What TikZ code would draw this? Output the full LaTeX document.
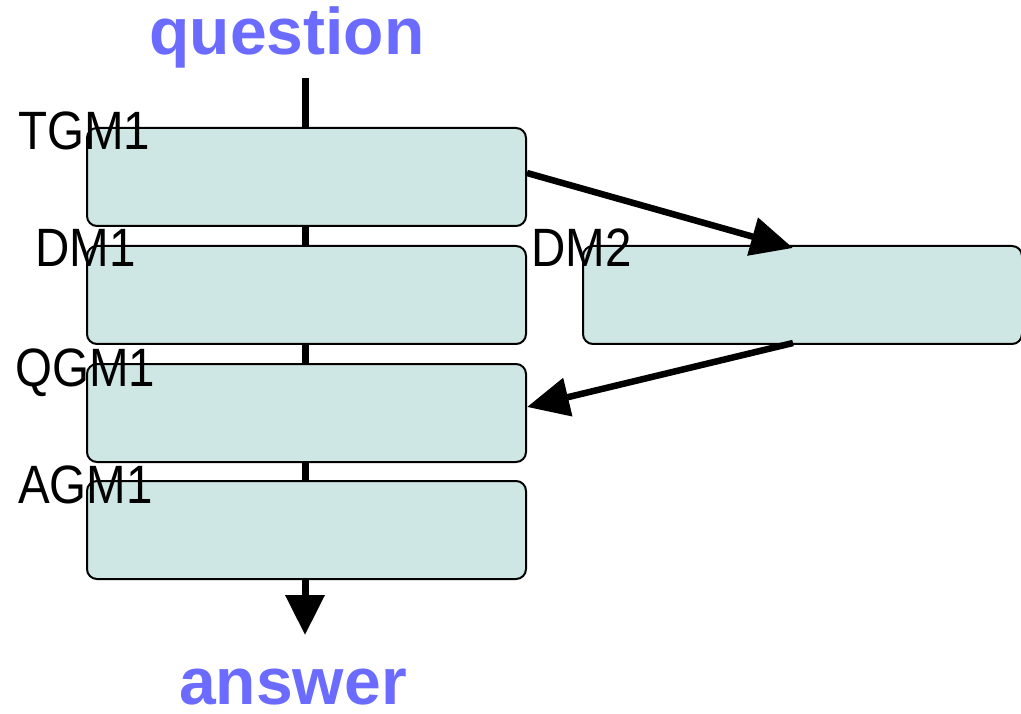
\documentclass[tikz,border=0pt]{standalone}
\usepackage{fontspec}
\setmainfont{Liberation Sans}
\usetikzlibrary{arrows.meta}
\definecolor{boxfill}{HTML}{CFE7E4}
\definecolor{titleblue}{HTML}{6B6BFF}
\begin{document}
\begin{tikzpicture}[x=1pt,y=-1pt,
  mbox/.style={draw=black,line width=2pt,fill=boxfill,rounded corners=10pt,minimum width=439pt,minimum height=98pt,inner sep=0pt,anchor=north west},
  lbl/.style={anchor=base west,inner sep=0pt,font=\fontsize{54}{60}\selectfont},
  ttl/.style={anchor=base,inner sep=0pt,text=titleblue,font=\fontsize{66}{70}\selectfont\bfseries},
  flow/.style={line width=7pt,-{Triangle[length=40pt,width=38pt]}},
  side/.style={line width=6.5pt,-{Triangle[length=42pt,width=38pt]}}]
\useasboundingbox (0,0) rectangle (1021,714);
\node[ttl] (q) at (287,55) {question};
\node[ttl] (a) at (293,704) {answer};
\coordinate (top) at (305,78);
\coordinate (bot) at (305,635);
\draw[flow] (top) -- (bot);
\node[mbox] (tgm) at (86,127) {};
\node[mbox] (dm1) at (86,245) {};
\node[mbox] (qgm) at (86,363) {};
\node[mbox] (agm) at (86,480) {};
\node[mbox] (dm2) at (582,245) {};
\node[lbl] (ltgm) at (18,150) {\scalebox{0.88}[1]{TGM1}};
\node[lbl] (ldm1) at (35,267) {\scalebox{0.88}[1]{DM1}};
\node[lbl] (ldm2) at (531,267) {\scalebox{0.88}[1]{DM2}};
\node[lbl] (lqgm) at (15,386) {\scalebox{0.88}[1]{QGM1}};
\node[lbl] (lagm) at (18,503) {\scalebox{0.88}[1]{AGM1}};
\coordinate (s1) at (527,173);
\coordinate (e1) at (793,248);
\coordinate (s2) at (793,343);
\coordinate (e2) at (530,407);
\draw[side] (tgm.east |- s1) -- (e1);
\draw[side] (s2) -- (qgm.east |- e2);
\end{tikzpicture}
\end{document}
